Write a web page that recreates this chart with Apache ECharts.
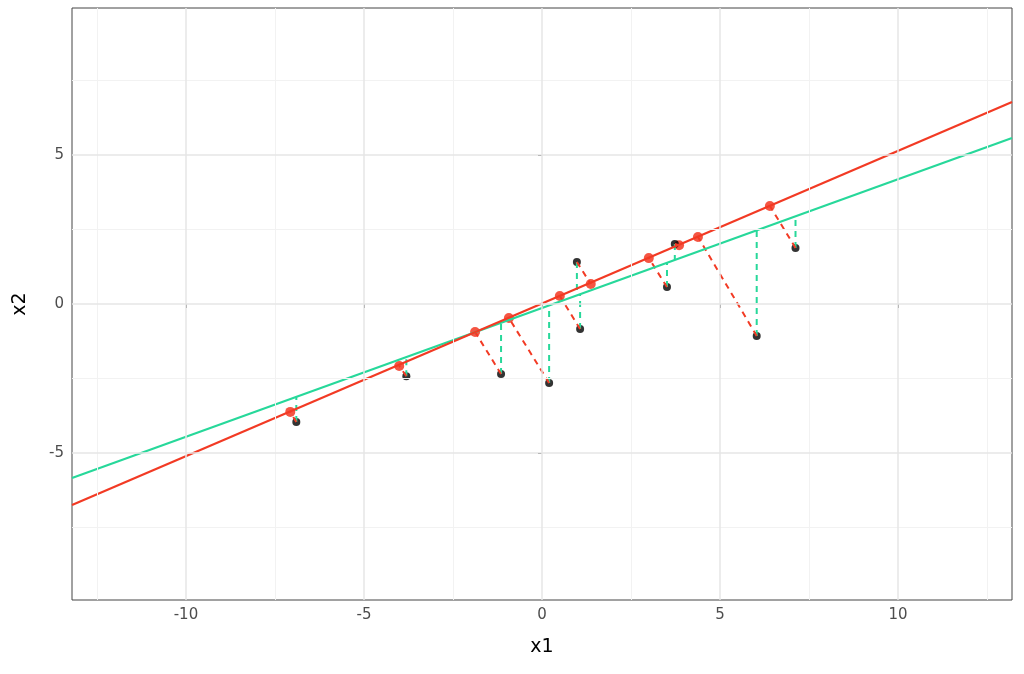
<!DOCTYPE html>
<html><head><meta charset="utf-8">
<script src="https://cdn.jsdelivr.net/npm/echarts@6/dist/echarts.min.js"></script>
<style>html,body{margin:0;background:#fff}#c{width:1024px;height:674px}</style>
</head><body><div id="c"></div>
<script>
// observed points
let blackX = [-6.9, -3.81, -1.15, 0.2, 1.07, 0.98, 3.51, 3.73, 6.03, 7.12];
let blackY = [-3.96, -2.42, -2.35, -2.65, -0.84, 1.41, 0.57, 2.01, -1.07, 1.88];
// projected points on red line (paired with black)
let redX = [-7.07, -4.01, -1.88, -0.93, 0.5, 1.37, 3.0, 3.85, 4.38, 6.4];
let redY = [-3.62, -2.08, -0.94, -0.47, 0.27, 0.67, 1.54, 1.97, 2.25, 3.29];
// green line value at each black x
let greenAtBlack = [-3.11, -1.78, -0.63, -0.04, 0.33, 0.29, 1.39, 1.48, 2.47, 2.95];
// fitted lines, endpoints
let redLine = [[-13.2, -6.74], [13.2, 6.78]];
let greenLine = [[-13.2, -5.84], [13.2, 5.57]];
let tickVals = [-10, -5, 0, 5, 10];
let xMinor = [-12.5, -7.5, -2.5, 2.5, 7.5, 12.5];
let yMinor = [-7.5, -2.5, 2.5, 7.5];

let chart = echarts.init(document.getElementById('c'));
let pairs = function (ys2, xs2) {
    let out = [];
    for (let i = 0; i < blackX.length; i++) {
        out.push([blackX[i], blackY[i]]);
        out.push([xs2 ? xs2[i] : blackX[i], ys2[i]]);
        out.push([null, null]);
    }
    return out;
};
let gridMark = function (vals, key, color, w) {
    return vals.map(function (v) {
        let o = {lineStyle: {color: color, width: w, type: 'solid'}};
        o[key] = v;
        return o;
    });
};
let axisCommon = {
    type: 'value', splitLine: {show: false},
    axisLine: {show: false}, axisTick: {show: true, customValues: tickVals, lineStyle: {color: '#333'}, length: 4},
    axisLabel: {customValues: tickVals, color: '#4d4d4d', fontSize: 15, fontFamily: 'DejaVu Sans'},
    nameTextStyle: {color: '#000', fontSize: 19, fontFamily: 'DejaVu Sans'}
};
chart.setOption({
    animation: false,
    grid: {left: 72, right: 12, top: 8, bottom: 74, show: true, borderColor: '#444', borderWidth: 1},
    xAxis: Object.assign({}, axisCommon, {min: -13.2, max: 13.2, name: 'x1', nameLocation: 'middle', nameGap: 38}),
    yAxis: Object.assign({}, axisCommon, {min: -9.93, max: 9.93, name: 'x2', nameLocation: 'middle', nameGap: 42}),
    series: [
        {
            type: 'line', data: [], silent: true,
            markLine: {
                silent: true, symbol: 'none', label: {show: false},
                data: gridMark(xMinor, 'xAxis', '#f2f2f2', 1)
                    .concat(gridMark(yMinor, 'yAxis', '#f2f2f2', 1))
                    .concat(gridMark(tickVals, 'xAxis', '#e6e6e6', 1.5))
                    .concat(gridMark(tickVals, 'yAxis', '#e6e6e6', 1.5))
            }
        },
        {type: 'line', data: pairs(greenAtBlack), connectNulls: false, showSymbol: false,
            lineStyle: {color: '#27d89a', width: 2, type: [6, 5]}},
        {type: 'line', data: pairs(redY, redX), connectNulls: false, showSymbol: false,
            lineStyle: {color: '#f23a24', width: 2, type: [6, 5]}},
        {type: 'line', data: greenLine, showSymbol: false, lineStyle: {color: '#27d89a', width: 2.2}},
        {type: 'line', data: redLine, showSymbol: false, lineStyle: {color: '#f23a24', width: 2.2}},
        {type: 'scatter', data: redX.map(function (x, i) { return [x, redY[i]]; }),
            symbolSize: 10, itemStyle: {color: '#f22a14'}},
        {type: 'scatter', data: blackX.map(function (x, i) { return [x, blackY[i]]; }),
            symbolSize: 8, itemStyle: {color: '#000'}}
    ]
});
</script></body></html>
